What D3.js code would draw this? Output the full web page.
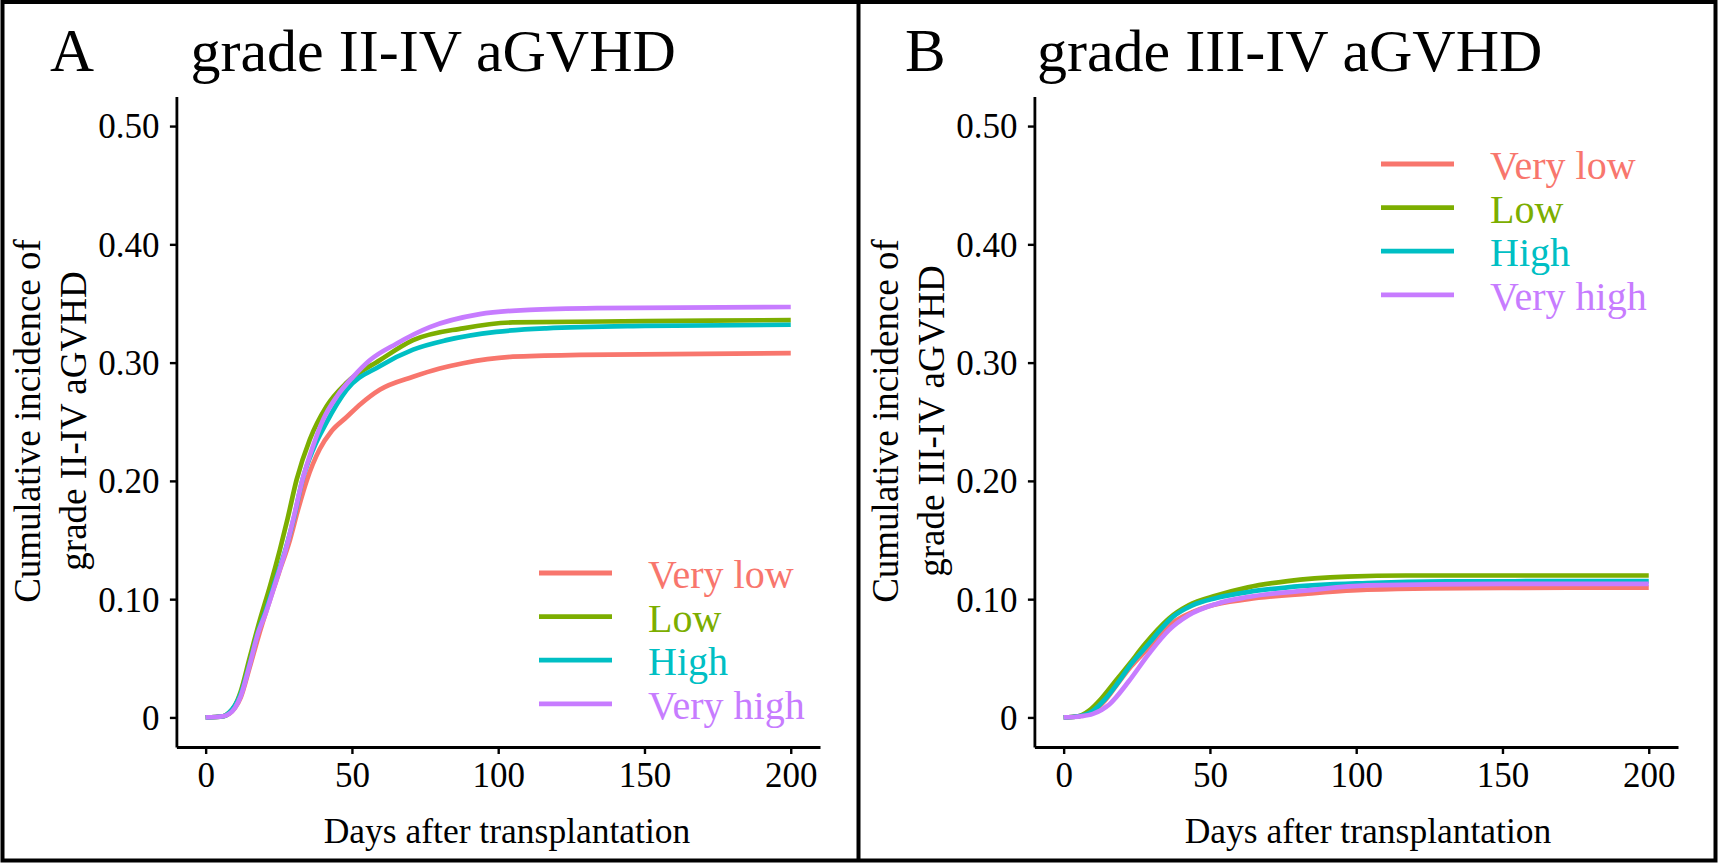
<!DOCTYPE html>
<html>
<head>
<meta charset="utf-8">
<script src="https://cdn.jsdelivr.net/npm/d3@7"></script>
<style>
  body { margin: 0; background: #fff; }
  svg text { font-family: "Liberation Serif", "Times New Roman", serif; }
</style>
</head>
<body>
<svg id="chart" width="1720" height="864"></svg>
<script>
const serif = '"Liberation Serif", "Times New Roman", serif';

// groups and ggplot default hues
const groups = ["Very low", "Low", "High", "Very high"];
const groupColors = ["#F8766D", "#7CAE00", "#00BFC4", "#C77CFF"];

const yTicks = [0, 0.1, 0.2, 0.3, 0.4, 0.5];
const xTicks = [0, 50, 100, 150, 200];

// panel A: grade II-IV, [day, cumulative incidence]
const gradeII_veryLow = [[0,0],[6,0.001],[8,0.003],[10,0.008],[12,0.017],[15,0.042],[18,0.068],[21,0.092],[25,0.122],[28.8,0.15],[31.5,0.175],[34.5,0.2],[39,0.227],[43,0.242],[48.2,0.254],[53,0.265],[59.5,0.277],[70.9,0.288],[80,0.295],[88,0.2995],[105,0.305],[128,0.3065],[200,0.308]];
const gradeII_low = [[0,0],[6,0.001],[8,0.004],[10,0.01],[12,0.022],[15,0.05],[18.5,0.082],[22,0.111],[25.4,0.142],[28,0.168],[31.1,0.201],[35.6,0.235],[41.3,0.263],[48.2,0.283],[59.5,0.302],[70.9,0.319],[88,0.329],[105,0.334],[150,0.335],[200,0.336]];
const gradeII_high = [[0,0],[6,0.001],[8,0.004],[10,0.01],[12,0.02],[15,0.045],[18,0.073],[20.5,0.09],[24,0.117],[27.4,0.143],[30.3,0.17],[33,0.2],[37,0.228],[41,0.248],[48.2,0.277],[59.5,0.297],[70.9,0.311],[82.3,0.319],[99.3,0.326],[116.4,0.329],[150,0.331],[200,0.332]];
const gradeII_veryHigh = [[0,0],[6,0.001],[8,0.003],[10,0.008],[12,0.018],[15,0.044],[18,0.072],[20.5,0.088],[24,0.115],[27.4,0.142],[30,0.168],[33.1,0.201],[36.5,0.228],[40.2,0.252],[45,0.272],[50.4,0.288],[56.1,0.302],[65.2,0.316],[76.6,0.33],[93.7,0.341],[110.7,0.3446],[133.5,0.346],[200,0.347]];

// panel B: grade III-IV
const gradeIII_veryLow = [[0,0],[5,0.001],[10,0.005],[14,0.014],[18,0.027],[23,0.043],[29,0.059],[33,0.07],[37.3,0.08],[44,0.089],[49.5,0.094],[63,0.1],[83.4,0.1047],[103.7,0.108],[150,0.1095],[200,0.1097]];
const gradeIII_low = [[0,0],[5,0.001],[8.8,0.006],[12.9,0.016],[17,0.0285],[22.4,0.045],[27.8,0.062],[31.9,0.0736],[35.9,0.0835],[42.7,0.0948],[52.2,0.103],[63,0.11],[76.6,0.1153],[97,0.119],[117,0.12],[200,0.12]];
const gradeIII_high = [[0,0],[5,0.001],[10.2,0.006],[14,0.015],[18.3,0.0285],[23,0.045],[29,0.062],[33,0.074],[37.3,0.085],[44,0.0948],[52.2,0.101],[63,0.106],[76.6,0.11],[103.7,0.1136],[130.8,0.115],[200,0.1153]];
const gradeIII_veryHigh = [[0,0],[6,0.001],[10,0.003],[15.6,0.011],[22.4,0.031],[29.2,0.054],[35.9,0.0736],[42.7,0.0863],[52.2,0.096],[63,0.1018],[83.4,0.1074],[103.7,0.1117],[150,0.113],[200,0.113]];

const panels = [
  { letter: "A", title: "grade II-IV aGVHD", ylab: ["Cumulative incidence of", "grade II-IV aGVHD"],
    series: [gradeII_veryLow, gradeII_low, gradeII_high, gradeII_veryHigh],
    dx: 0, letterX: 50, titleX: 190.5, xlabX: 507, legendX: 539, legendY: 573 },
  { letter: "B", title: "grade III-IV aGVHD", ylab: ["Cumulative incidence of", "grade III-IV aGVHD"],
    series: [gradeIII_veryLow, gradeIII_low, gradeIII_high, gradeIII_veryHigh],
    dx: 858, letterX: 905, titleX: 1037, xlabX: 1368, legendX: 1381, legendY: 164 }
];

const svg = d3.select("#chart");

// frame and divider
svg.append("rect").attr("x", 2.5).attr("y", 2).attr("width", 1713).attr("height", 858.5)
  .attr("fill", "none").attr("stroke", "#000").attr("stroke-width", 4);
svg.append("line").attr("x1", 858.5).attr("x2", 858.5).attr("y1", 2).attr("y2", 860.5)
  .attr("stroke", "#000").attr("stroke-width", 4);

panels.forEach(p => {
  const g = svg.append("g").attr("font-family", serif);
  const x = d3.scaleLinear().domain([-10, 210]).range([176.4 + p.dx, 820 + p.dx]);
  const y = d3.scaleLinear().domain([-0.025, 0.525]).range([747, 96.5]);

  g.append("text").attr("x", p.letterX).attr("y", 71).attr("font-size", 61).text(p.letter);
  g.append("text").attr("x", p.titleX).attr("y", 71).attr("font-size", 60).text(p.title);

  // y axis
  const ya = g.append("g").attr("transform", `translate(${x(-10)},0)`)
    .call(d3.axisLeft(y).tickValues(yTicks).tickSize(6.5).tickSizeOuter(0)
      .tickFormat(v => v === 0 ? "0" : d3.format(".2f")(v)))
    .attr("font-family", serif);
  ya.select(".domain").attr("stroke-width", 2.8);
  ya.selectAll(".tick line").attr("stroke-width", 2.4);
  ya.selectAll(".tick text").attr("font-size", 35).attr("font-family", serif)
    .attr("x", -17).attr("dy", "0.34em").attr("fill", "#000");

  // x axis
  const xa = g.append("g").attr("transform", `translate(0,${y(-0.025)})`)
    .call(d3.axisBottom(x).tickValues(xTicks).tickSize(7).tickSizeOuter(0))
    .attr("font-family", serif);
  xa.select(".domain").attr("stroke-width", 2.8);
  xa.selectAll(".tick line").attr("stroke-width", 2.4);
  xa.selectAll(".tick text").attr("font-size", 35).attr("font-family", serif)
    .attr("y", 40).attr("dy", 0).attr("fill", "#000");

  g.append("text").attr("x", p.xlabX).attr("y", 843)
    .attr("text-anchor", "middle").attr("font-size", 35.5).text("Days after transplantation");

  // y axis title, two lines
  p.ylab.forEach((t, i) => {
    g.append("text")
      .attr("transform", `translate(${40 + i * 46 + p.dx},421) rotate(-90)`)
      .attr("text-anchor", "middle").attr("font-size", 37).text(t);
  });

  // curves
  const line = d3.line().x(d => x(d[0])).y(d => y(d[1])).curve(d3.curveMonotoneX);
  p.series.forEach((s, i) => {
    g.append("path").datum(s).attr("d", line)
      .attr("fill", "none").attr("stroke", groupColors[i]).attr("stroke-width", 4.7);
  });

  // legend
  groups.forEach((name, i) => {
    const ly = p.legendY + i * 43.6;
    g.append("line").attr("x1", p.legendX).attr("x2", p.legendX + 73)
      .attr("y1", ly).attr("y2", ly)
      .attr("stroke", groupColors[i]).attr("stroke-width", 4.8);
    g.append("text").attr("x", p.legendX + 109).attr("y", ly + 15)
      .attr("font-size", 40).attr("fill", groupColors[i]).text(name);
  });
});
</script>
</body>
</html>
